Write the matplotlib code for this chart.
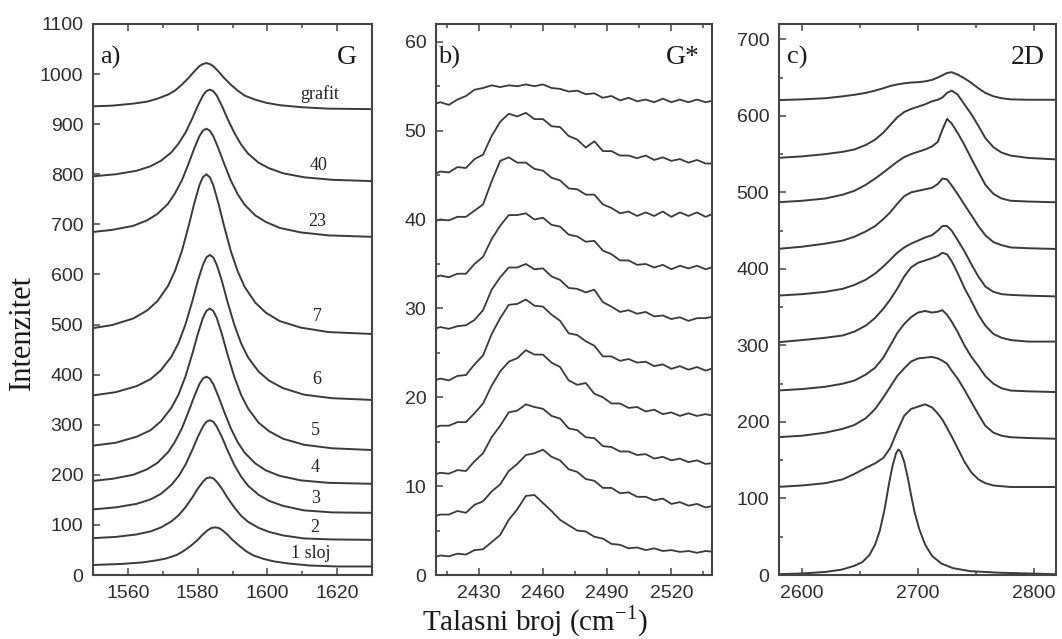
import matplotlib
matplotlib.use("Agg")
import matplotlib.pyplot as plt
from matplotlib.ticker import MultipleLocator

# ---------------- Panel a) G band ----------------
xa_grid1 = [1547.5, 1555.5, 1561.5, 1565.5, 1568.5, 1571.5, 1573.5, 1575.5, 1577.5, 1579, 1580.5, 1581.5,
            1582.5, 1583.5, 1584.5, 1586, 1587.5, 1589.5, 1591.5, 1593.5, 1596.5, 1599.5, 1603.5, 1609.5,
            1617.5, 1630.5]
xa_grid2 = [1548.5, 1556.5, 1562.5, 1566.5, 1569.5, 1572.5, 1574.5, 1576.5, 1578.5, 1580, 1581.5, 1582.5,
            1583.5, 1584.5, 1585.5, 1587, 1588.5, 1590.5, 1592.5, 1594.5, 1597.5, 1600.5, 1604.5, 1610.5,
            1618.5, 1631.5]
xa_grid3 = [1550, 1558, 1564, 1568, 1571, 1574, 1576, 1578, 1580, 1581.5, 1583, 1584, 1585, 1586, 1587,
            1588.5, 1590, 1592, 1594, 1596, 1599, 1602, 1606, 1612, 1620, 1633]

g_grafit = [935, 937, 941, 945, 951, 959, 967, 979, 993, 1005, 1016, 1020, 1022, 1020, 1016, 1005, 993, 979,
            967, 957, 949, 943, 938, 934, 931, 930]
g_40 = [795, 800, 807, 816, 827, 844, 861, 883, 912, 936, 957, 966, 969, 966, 957, 936, 912, 883, 859, 841,
        823, 812, 802, 794, 789, 786]
g_23 = [683, 689, 697, 708, 721, 741, 762, 788, 823, 851, 876, 887, 891, 887, 876, 851, 823, 788, 760, 739,
        718, 705, 693, 684, 678, 675]
g_7 = [490, 499, 512, 528, 547, 577, 607, 647, 699, 741, 778, 794, 800, 794, 778, 741, 699, 647, 606, 575,
       544, 524, 507, 494, 485, 481]
g_6 = [357, 365, 377, 391, 409, 436, 463, 500, 547, 586, 619, 634, 639, 634, 619, 586, 547, 500, 462, 434,
       406, 388, 373, 360, 353, 349]
g_5 = [257, 264, 276, 289, 307, 334, 360, 396, 442, 480, 513, 527, 532, 527, 513, 480, 442, 396, 359, 332,
       304, 287, 272, 260, 253, 249]
g_4 = [186, 192, 200, 211, 224, 245, 266, 293, 328, 356, 381, 392, 396, 392, 381, 356, 328, 293, 265, 244,
       223, 209, 198, 189, 184, 182]
g_3 = [130, 135, 142, 151, 162, 180, 197, 220, 250, 275, 296, 306, 309, 306, 296, 275, 250, 220, 196, 178,
       160, 148, 138, 129, 125, 124]
g_2 = [73, 76, 81, 87, 95, 107, 119, 135, 155, 172, 186, 193, 195, 193, 186, 172, 155, 135, 118, 106, 94, 86,
       79, 73, 71, 70]
g_1 = [20, 22, 25, 29, 33, 40, 48, 58, 70, 81, 90, 94, 95, 94, 90, 81, 70, 58, 47, 39, 32, 27, 23, 19, 17, 17]

g_labels = ["grafit", "40", "23", "7", "6", "5", "4", "3", "2", "1 sloj"]
g_label_x = [1614.9, 1614.7, 1614.3, 1614.4, 1614.2, 1613.7, 1613.7, 1613.7, 1613.7, 1612.5]
g_label_y = [961, 818, 705, 517, 391, 288, 214, 153, 95, 43]

# ---------------- Panel b) G* band ----------------
xb = [2408, 2412, 2416, 2420, 2424, 2428, 2432, 2436, 2440, 2444, 2448, 2452, 2456, 2460, 2464, 2468, 2472,
      2476, 2480, 2484, 2488, 2492, 2496, 2500, 2504, 2508, 2512, 2516, 2520, 2524, 2528, 2532, 2536, 2540]
gs_1 = [52.9, 53.2, 52.9, 53.5, 53.9, 54.6, 54.8, 55.1, 54.9, 55.1, 55.0, 55.2, 55.0, 55.2, 54.8, 54.7, 54.4,
        54.5, 54.1, 54.2, 53.7, 53.9, 53.4, 53.7, 53.3, 53.5, 53.2, 53.6, 53.2, 53.5, 53.2, 53.5, 53.2, 53.4]
gs_2 = [45.0, 45.4, 45.3, 45.9, 45.8, 46.8, 47.3, 49.4, 51.0, 51.9, 51.6, 52.0, 51.3, 51.3, 50.5, 50.4, 49.4,
        49.0, 48.1, 48.8, 47.7, 47.7, 47.2, 47.2, 46.9, 47.2, 46.7, 47.0, 46.6, 46.8, 46.4, 46.7, 46.3, 46.3]
gs_3 = [39.7, 40.0, 39.9, 40.3, 40.3, 41.0, 41.7, 44.3, 46.6, 47.0, 46.4, 46.4, 45.7, 45.5, 44.7, 44.4, 43.5,
        43.4, 42.8, 42.8, 41.7, 41.3, 40.7, 40.9, 40.4, 40.8, 40.4, 40.9, 40.3, 40.8, 40.4, 40.8, 40.3, 40.7]
gs_4 = [33.4, 33.7, 33.5, 33.9, 33.9, 35.0, 35.8, 37.8, 39.3, 40.5, 40.5, 40.7, 40.0, 40.2, 39.4, 39.2, 38.3,
        38.1, 37.5, 37.6, 36.5, 36.1, 35.4, 35.4, 34.9, 35.0, 34.6, 34.9, 34.4, 34.8, 34.5, 34.8, 34.4, 34.7]
gs_5 = [27.6, 27.9, 27.7, 28.0, 28.1, 28.7, 29.8, 32.1, 33.5, 34.6, 34.6, 35.0, 34.4, 34.5, 33.6, 33.2, 32.3,
        32.2, 31.8, 32.1, 30.7, 30.2, 29.6, 29.8, 29.4, 29.6, 29.1, 29.2, 28.8, 29.0, 28.6, 28.9, 28.9, 29.1]
gs_6 = [21.8, 22.1, 21.9, 22.4, 22.5, 23.7, 24.7, 27.1, 28.9, 30.4, 30.5, 31.0, 30.3, 30.2, 29.3, 28.6, 27.2,
        27.0, 26.3, 25.8, 24.6, 24.6, 24.1, 24.3, 23.9, 24.0, 23.5, 23.7, 23.2, 23.5, 23.1, 23.4, 23.0, 23.3]
gs_7 = [16.5, 16.8, 16.8, 17.2, 17.2, 18.2, 19.3, 21.3, 22.9, 24.0, 24.4, 25.3, 24.8, 24.8, 23.9, 23.4, 21.9,
        21.4, 21.6, 20.4, 20.0, 19.3, 19.3, 18.8, 18.9, 18.4, 18.6, 18.1, 18.3, 17.9, 18.2, 17.9, 18.1, 17.9]
gs_8 = [11.2, 11.5, 11.4, 11.8, 11.7, 12.8, 13.7, 15.5, 16.8, 18.3, 18.5, 19.2, 18.9, 18.7, 17.9, 17.6, 16.5,
        16.3, 15.5, 15.4, 14.5, 14.4, 13.9, 13.9, 13.5, 13.6, 13.1, 13.3, 12.9, 13.1, 12.7, 12.9, 12.5, 12.6]
gs_9 = [6.5, 6.8, 6.8, 7.2, 7.0, 7.9, 8.3, 9.4, 10.2, 11.7, 12.5, 13.5, 13.7, 14.1, 13.3, 12.9, 11.9, 11.6,
        10.8, 10.6, 9.8, 9.8, 9.2, 9.3, 8.8, 8.8, 8.4, 8.6, 8.0, 8.2, 7.8, 8.0, 7.6, 7.8]
gs_10 = [1.9, 2.2, 2.1, 2.4, 2.3, 2.8, 2.9, 3.7, 4.5, 6.2, 7.4, 8.9, 9.0, 8.1, 7.2, 6.2, 5.6, 5.0, 4.9, 4.3,
         4.1, 3.5, 3.4, 3.0, 3.1, 2.8, 3.0, 2.7, 2.8, 2.6, 2.7, 2.5, 2.7, 2.6]

# ---------------- Panel c) 2D band ----------------
xc = [2578, 2600, 2620, 2635, 2645, 2655, 2663, 2670, 2676, 2682, 2688, 2694, 2700, 2706, 2712, 2717, 2721,
      2725, 2729, 2734, 2740, 2746, 2752, 2758, 2765, 2772, 2780, 2795, 2820]
d_1 = [620.5, 621.5, 623, 625.5, 627.5, 630, 633, 636, 639, 641, 642.5, 643.5, 644, 645, 647, 650, 653, 656,
       657, 654, 649, 643, 636, 630, 625.5, 623, 621.5, 621, 621]
d_2 = [545, 547, 550, 553, 556, 562, 569, 578, 588, 598, 605, 609, 612, 615, 619, 621, 624, 630, 633, 628,
       615, 602, 587, 571, 559, 552, 548, 545, 543]
d_3 = [487, 489, 492, 497, 502, 510, 518, 526, 533, 540, 546, 550, 553, 556, 560, 566, 582, 596, 590, 578,
       562, 544, 527, 510, 498, 492, 489, 488, 487]
d_4 = [426, 429, 433, 437, 442, 449, 456, 465, 474, 485, 495, 500, 502, 504, 506, 511, 518, 517, 509, 498,
       484, 470, 456, 444, 435, 431, 428, 427, 426]
d_5 = [365, 367, 370, 374, 379, 386, 394, 403, 412, 421, 428, 433, 437, 441, 444, 450, 456, 456, 450, 438,
       423, 406, 390, 377, 370, 367, 366, 365, 364]
d_6 = [304, 307, 310, 313, 318, 326, 336, 348, 360, 374, 390, 402, 408, 411, 414, 417, 421, 419, 410, 395,
       375, 358, 340, 326, 315, 310, 307, 305, 305]
d_7 = [241, 243, 246, 250, 254, 262, 271, 284, 300, 316, 328, 337, 343, 345, 343, 344, 346, 340, 331, 318,
       300, 285, 273, 260, 250, 244, 241, 240, 239]
d_8 = [180, 182, 186, 191, 196, 205, 217, 232, 246, 260, 270, 279, 283, 284, 285, 283, 280, 276, 267, 257,
       242, 226, 210, 195, 186, 182, 180, 179, 178]
d_9 = [115, 117, 120, 125, 132, 140, 146, 153, 166, 188, 208, 217, 220, 223, 219, 211, 203, 192, 181, 166,
       148, 134, 125, 120, 117, 116, 115, 115, 115]
xc_single = [2578, 2600, 2620, 2634, 2645, 2652, 2658, 2663, 2667, 2671, 2675, 2678, 2681, 2683, 2685, 2688,
             2691, 2694, 2697, 2701, 2706, 2712, 2720, 2730, 2745, 2770, 2820]
d_single = [1, 2, 4, 7, 12, 17, 26, 40, 58, 85, 120, 143, 159, 164, 161, 148, 128, 104, 82, 60, 40, 25, 15,
            9, 5, 3, 1]

# ---------------- Figure ----------------
plt.rcParams['font.family'] = ['Liberation Sans', 'DejaVu Sans']
plt.rcParams['mathtext.fontset'] = 'stix'

LINE = "#3a3a3a"
SPINE = "#454545"
SERIF = ['Liberation Serif', 'DejaVu Serif']

W, H = 1062, 639
fig = plt.figure(figsize=(W / 100, H / 100), dpi=100)


def add_ax(left_px, right_px, top_px=24, bottom_px=575):
    return fig.add_axes([left_px / W, 1 - bottom_px / H, (right_px - left_px) / W, (bottom_px - top_px) / H])


def style(ax, xlim, ylim, xmaj, xmin, ymaj, ymin=None):
    ax.set_xlim(*xlim)
    ax.set_ylim(*ylim)
    ax.xaxis.set_major_locator(MultipleLocator(xmaj))
    ax.xaxis.set_minor_locator(MultipleLocator(xmin))
    ax.yaxis.set_major_locator(MultipleLocator(ymaj))
    if ymin:
        ax.yaxis.set_minor_locator(MultipleLocator(ymin))
    ax.tick_params(which='both', direction='in', top=True, right=False, width=1.1, color=SPINE)
    ax.tick_params(which='major', length=5)
    ax.tick_params(which='minor', length=3)
    ax.tick_params(axis='both', labelsize=14, labelcolor='#2e2e2e', pad=7)
    for s in ax.spines.values():
        s.set_linewidth(1.5)
        s.set_color(SPINE)


axA = add_ax(93, 372)
axB = add_ax(436, 712)
axC = add_ax(779, 1056)

# Panel a
for xs, ys in [(xa_grid1, g_grafit), (xa_grid2, g_40), (xa_grid1, g_23), (xa_grid1, g_7),
               (xa_grid2, g_6), (xa_grid2, g_5), (xa_grid1, g_4), (xa_grid2, g_3),
               (xa_grid2, g_2), (xa_grid3, g_1)]:
    axA.plot(xs, ys, color=LINE, lw=1.4)
for t, x, y in zip(g_labels, g_label_x, g_label_y):
    axA.text(x, y, t, ha='center', va='center', fontsize=13, family=SERIF, color='#222222')
style(axA, (1550, 1630), (0, 1100), 20, 10, 100)

# Panel b
for ys in [gs_1, gs_2, gs_3, gs_4, gs_5, gs_6, gs_7, gs_8, gs_9, gs_10]:
    axB.plot(xb, ys, color=LINE, lw=1.3)
style(axB, (2410, 2539), (0, 62), 30, 15, 10, 5)

# Panel c
for ys in [d_1, d_2, d_3, d_4, d_5, d_6, d_7, d_8, d_9]:
    axC.plot(xc, ys, color=LINE, lw=1.4)
axC.plot(xc_single, d_single, color=LINE, lw=1.4)
style(axC, (2580, 2819), (0, 720), 100, 50, 100, 50)

# Panel tags
for ax, tag, name, xl, xr in [(axA, "a)", "G", 0.025, 0.947),
                              (axB, "b)", "G*", 0.006, 0.957),
                              (axC, "c)", "2D", 0.030, 0.960)]:
    ax.text(xl, 0.940, tag, transform=ax.transAxes, ha='left', va='center', fontsize=19,
            family=SERIF, color='#1a1a1a')
    ax.text(xr, 0.940, name, transform=ax.transAxes, ha='right', va='center', fontsize=20,
            family=SERIF, color='#1a1a1a')

fig.text(22 / W, 1 - 333 / H, "Intenzitet", rotation=90, ha='center', va='center', fontsize=22,
         family=SERIF, color='#1a1a1a')
fig.text(535 / W, 1 - 630 / H, r"Talasni broj (cm$^{\mathregular{-1}}$)", ha='center', va='baseline',
         fontsize=21, family=SERIF, color='#1a1a1a')

fig.savefig("out.png", dpi=100)
